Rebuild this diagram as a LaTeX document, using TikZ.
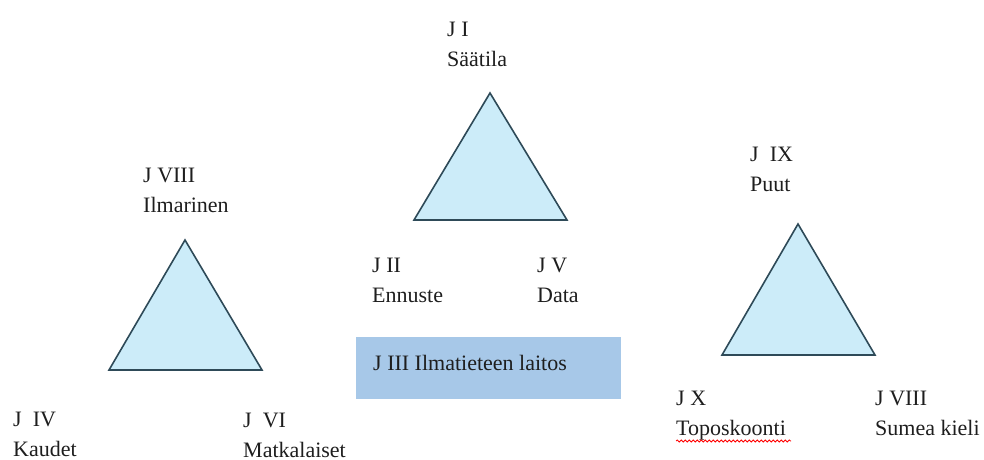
\documentclass[tikz,border=0pt]{standalone}
\usepackage{fontspec}
\setmainfont{Liberation Serif}
\usetikzlibrary{decorations.pathmorphing}
\definecolor{trifill}{HTML}{CCECF9}
\definecolor{triline}{HTML}{2E4A58}
\definecolor{boxfill}{HTML}{A7C8E8}
\definecolor{txt}{HTML}{1E1E1E}
\begin{document}
\begin{tikzpicture}[x=1pt,y=-1pt,
  tri/.style={fill=trifill,draw=triline,line width=1.6pt,line join=miter},
  lbl/.style={anchor=base west,inner sep=0pt,align=left,text=txt,
    font=\fontsize{22}{30}\selectfont}]
\useasboundingbox (0,0) rectangle (984,459);
% triangles
\draw[tri] (490,93) -- (567,220) -- (414,220) -- cycle;
\draw[tri] (185,240) -- (262,370) -- (109,370) -- cycle;
\draw[tri] (798,224) -- (875,355) -- (722,355) -- cycle;
% box
\node[fill=boxfill,minimum width=265pt,minimum height=62pt,inner sep=0pt,anchor=north west] (box) at (356,337) {};
\node[lbl] (b) at (373,370) {J III Ilmatieteen laitos};
% labels (anchored at the baseline of their last line)
\node[lbl] (l1) at (447,66) {J I\\Säätila};
\node[lbl] (l2) at (372,302) {J II\\Ennuste};
\node[lbl] (l5) at (537,302) {J V\\Data};
\node[lbl] (l8) at (143,212) {J VIII\\Ilmarinen};
\node[lbl] (l4) at (13,456) {J\ \ IV\\Kaudet};
\node[lbl] (l6) at (243,457) {J\ \ VI\\Matkalaiset};
\node[lbl] (l9) at (750,191) {J\ \ IX\\Puut};
\node[lbl] (l10) at (676,435) {J X\\Toposkoonti};
\node[lbl] (l8b) at (875,435) {J VIII\\Sumea kieli};
\coordinate (w1) at (676,441);
\coordinate (w2) at (791,441);
\draw[red,line width=0.8pt,decorate,decoration={snake,amplitude=1pt,segment length=4pt}] (w1) -- (w2);
\end{tikzpicture}
\end{document}
